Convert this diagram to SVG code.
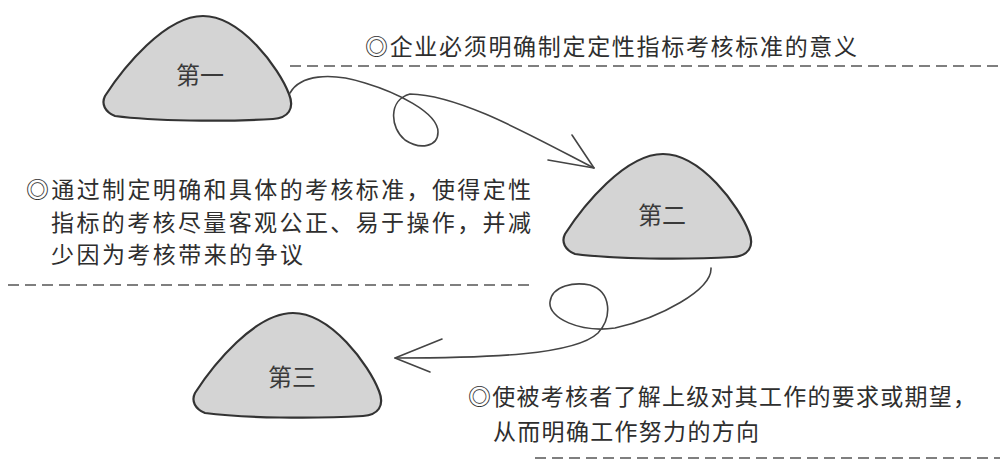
<svg xmlns="http://www.w3.org/2000/svg" width="1000" height="461" viewBox="0 0 1000 461">
<style>
.blob{fill:#d4d4d4;stroke:#333;stroke-width:2.2}
.lbl{font-family:"Noto Sans CJK SC","Noto Sans",sans-serif;font-size:24px;fill:#3a3a3a;text-anchor:middle}
.txt{font-family:"Noto Sans CJK SC","Noto Sans",sans-serif;font-size:23px;fill:#2e2e2e}
.dash{stroke:#555;stroke-width:1.6;stroke-dasharray:11 6;fill:none}
.con{fill:none;stroke:#444;stroke-width:1.6;stroke-linecap:round;stroke-linejoin:round}
</style>
<defs>
<path id="blob" d="M 12,100 C 2,96 -2,88 2,80 C 20,52 62,0 100,0 C 138,0 176,52 186,78 C 192,93 185,102 170,103 C 120,106 50,105 12,100 Z"/>
</defs>
<rect width="1000" height="461" fill="#fff"/>

<g id="node1">
<use href="#blob" class="blob" transform="translate(103,16)"/>
<text class="lbl" x="200" y="84">第一</text>
</g>
<g id="node2">
<use href="#blob" class="blob" transform="translate(563,154)"/>
<text class="lbl" x="662" y="224">第二</text>
</g>
<g id="node3">
<use href="#blob" class="blob" transform="translate(193,313)"/>
<text class="lbl" x="292" y="386">第三</text>
</g>

<g id="notes">
<text class="txt" x="365" y="55" textLength="492" lengthAdjust="spacing">◎企业必须明确制定定性指标考核标准的意义</text>
<line class="dash" x1="290" y1="66" x2="1000" y2="66"/>
<text class="txt" x="26" y="198" textLength="505" lengthAdjust="spacing">◎通过制定明确和具体的考核标准，使得定性</text>
<text class="txt" x="51" y="231" textLength="480" lengthAdjust="spacing">指标的考核尽量客观公正、易于操作，并减</text>
<text class="txt" x="51" y="263" textLength="252" lengthAdjust="spacing">少因为考核带来的争议</text>
<line class="dash" x1="8" y1="285" x2="535" y2="285"/>
<text class="txt" x="468" y="405" textLength="508" lengthAdjust="spacing">◎使被考核者了解上级对其工作的要求或期望，</text>
<text class="txt" x="493" y="440" textLength="266" lengthAdjust="spacing">从而明确工作努力的方向</text>
<line class="dash" x1="535" y1="458" x2="1000" y2="458"/>
</g>

<g id="connectors">
<path class="con" d="M 290,93 C 300,75 330,72 365,83 C 395,92 438,112 438,132 C 438,147 420,150 405,140 C 390,128 388,100 410,94 C 460,95 530,135 594,168"/>
<polyline class="con" points="572,135 594,168 548,160"/>
<path class="con" d="M 711,268 C 712,290 660,318 615,328 C 580,333 548,318 550,302 C 552,285 575,282 590,285 C 612,292 612,318 598,333 C 575,355 490,358 395,358"/>
<polyline class="con" points="442,339 395,358 430,372"/>
</g>
</svg>
